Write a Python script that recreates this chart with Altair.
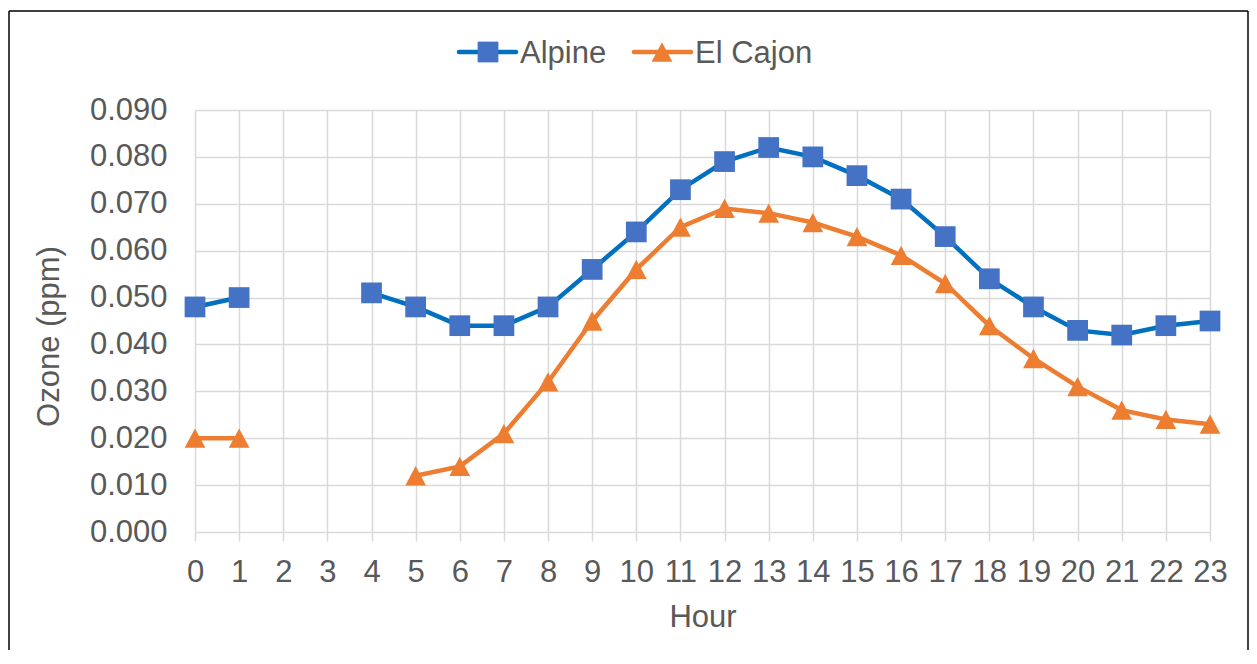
import altair as alt
import pandas as pd

hours = list(range(24))
series = ["Alpine", "El Cajon"]
alpine = [0.048, 0.050, None, None, 0.051, 0.048, 0.044, 0.044, 0.048, 0.056,
          0.064, 0.073, 0.079, 0.082, 0.080, 0.076, 0.071, 0.063, 0.054, 0.048,
          0.043, 0.042, 0.044, 0.045]
el_cajon = [0.020, 0.020, None, None, None, 0.012, 0.014, 0.021, 0.032, 0.045,
            0.056, 0.065, 0.069, 0.068, 0.066, 0.063, 0.059, 0.053, 0.044, 0.037,
            0.031, 0.026, 0.024, 0.023]
y_ticks = [0.0, 0.01, 0.02, 0.03, 0.04, 0.05, 0.06, 0.07, 0.08, 0.09]

line_colors = ["#0070C0", "#ED7D31"]
marker_colors = ["#4472C4", "#ED7D31"]
shapes = ["square", "M0,-0.93L1,0.93L-1,0.93Z"]

rows = []
for name, vals in zip(series, [alpine, el_cajon]):
    for h, v in zip(hours, vals):
        rows.append({"Hour": h, "Ozone": v, "Series": name})
df = pd.DataFrame(rows)

FONT = "Liberation Sans"
TXT = "#595959"
GRID = "#D9D9D9"
W, H = 1015, 422
MSIZE = 430

x_enc = alt.X("Hour:Q",
              scale=alt.Scale(domain=[0, 23], nice=False, zero=False),
              axis=alt.Axis(values=hours, format="d", grid=True, gridColor=GRID,
                            gridWidth=1.5, ticks=True, tickColor=GRID, tickWidth=1.5,
                            tickSize=9, domain=False, labelFont=FONT, labelFontSize=31,
                            labelColor=TXT, labelBaseline="alphabetic", labelPadding=40,
                            labelFlush=False, labelOverlap=False,
                            title="Hour", titleFont=FONT, titleFontSize=31,
                            titleFontWeight="normal", titleColor=TXT,
                            titleBaseline="alphabetic", titleY=94))
y_enc = alt.Y("Ozone:Q",
              scale=alt.Scale(domain=[0, 0.09], nice=False),
              axis=alt.Axis(values=y_ticks, format=".3f", grid=True, gridColor=GRID,
                            gridWidth=1.5, ticks=False, domain=False, labelFont=FONT,
                            labelFontSize=31, labelColor=TXT, labelPadding=28,
                            labelFlush=False, labelOverlap=False,
                            title="Ozone (ppm)", titleFont=FONT, titleFontSize=31,
                            titleFontWeight="normal", titleColor=TXT, titleAngle=270,
                            titleAlign="center", titleBaseline="middle",
                            titleX=-146, titleY=226))

base = alt.Chart(df)
lines = base.mark_line(strokeWidth=4.5, invalid="break-paths-filter-domains").encode(
    x=x_enc, y=y_enc,
    color=alt.Color("Series:N", scale=alt.Scale(domain=series, range=line_colors), legend=None),
)
points = base.mark_point(filled=True, size=MSIZE, opacity=1, strokeWidth=0).encode(
    x=x_enc, y=y_enc,
    color=alt.Color("Series:N", scale=alt.Scale(domain=series, range=marker_colors), legend=None),
    shape=alt.Shape("Series:N", scale=alt.Scale(domain=series, range=shapes), legend=None),
)

one = alt.Chart(pd.DataFrame({"k": [0]}))

# chart border (left, top, right)
border = [
    one.mark_rule(color="black", strokeWidth=1.5).encode(
        x=alt.value(-186), y=alt.value(-99), y2=alt.value(540)),
    one.mark_rule(color="black", strokeWidth=1.5).encode(
        x=alt.value(-186), x2=alt.value(1053), y=alt.value(-99)),
    one.mark_rule(color="black", strokeWidth=1.5).encode(
        x=alt.value(1053), y=alt.value(-99), y2=alt.value(540)),
]

# legend
leg = []
leg_line_x = [264, 439]
leg_mark_x = [293, 467]
leg_text_x = [325, 500]
for i, name in enumerate(series):
    leg.append(one.mark_rule(color=line_colors[i], strokeWidth=4.5, strokeCap="round").encode(
        x=alt.value(leg_line_x[i]), x2=alt.value(leg_line_x[i] + 57), y=alt.value(-58)))
    leg.append(one.mark_point(filled=True, size=MSIZE, opacity=1, strokeWidth=0,
                              shape=shapes[i], color=marker_colors[i]).encode(
        x=alt.value(leg_mark_x[i]), y=alt.value(-58)))
    leg.append(one.mark_text(font=FONT, fontSize=31, color=TXT, align="left",
                             baseline="alphabetic").encode(
        x=alt.value(leg_text_x[i]), y=alt.value(-47), text=alt.value(name)))

chart = alt.layer(lines, points, *border, *leg).resolve_scale(
    color="independent", shape="independent"
).properties(
    width=W, height=H,
    padding={"left": 0, "top": 2, "right": 0, "bottom": 0},
    background="white",
).configure_view(strokeWidth=0)

chart.save("out.html", embed_options={"renderer": "svg", "actions": False})
